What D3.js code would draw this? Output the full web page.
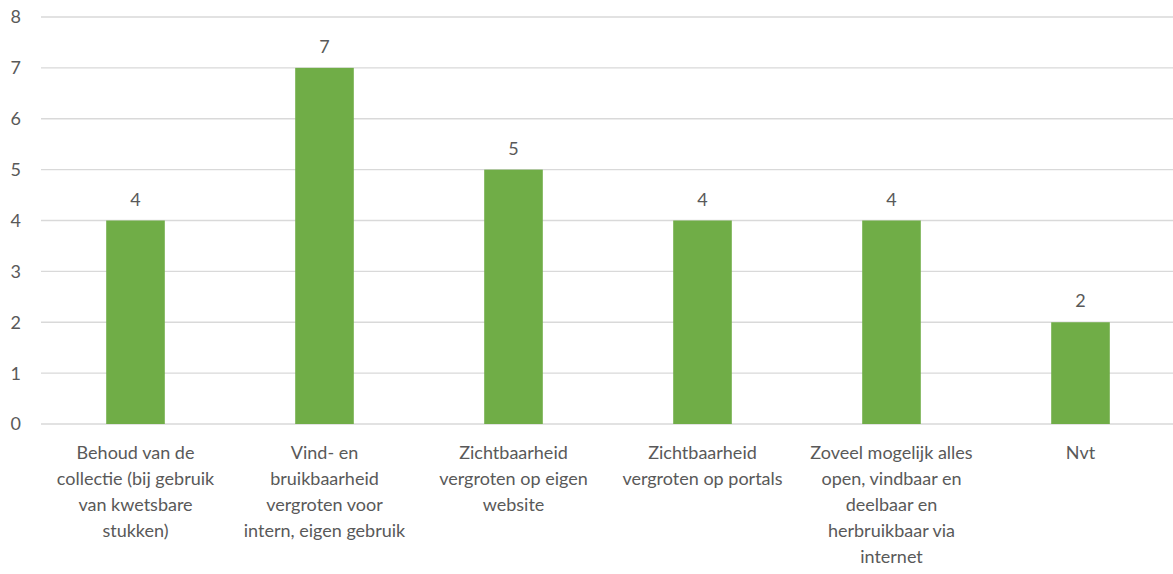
<!DOCTYPE html>
<html>
<head>
<meta charset="utf-8">
<script src="https://cdn.jsdelivr.net/npm/d3@7"></script>
<style>
  body { margin: 0; background: #fff; }
  text { font-family: Lato, "Open Sans", sans-serif; fill: #595959; }
</style>
</head>
<body>
<div id="chart"></div>
<script>
// Gegevens
const categories = [
    ["Behoud van de", "collectie (bij gebruik", "van kwetsbare", "stukken)"],
    ["Vind- en", "bruikbaarheid", "vergroten voor", "intern, eigen gebruik"],
    ["Zichtbaarheid", "vergroten op eigen", "website"],
    ["Zichtbaarheid", "vergroten op portals"],
    ["Zoveel mogelijk alles", "open, vindbaar en", "deelbaar en", "herbruikbaar via", "internet"],
    ["Nvt"]
];
const values = [4, 7, 5, 4, 4, 2];
const yTicks = [0, 1, 2, 3, 4, 5, 6, 7, 8];

const width = 1173;
const height = 574;
const margin = {top: 17, right: -2, bottom: 150, left: 41};

const svg = d3.select("#chart")
    .append("svg")
    .attr("width", width)
    .attr("height", height);

const x = d3.scaleBand()
    .domain(d3.range(categories.length))
    .range([margin.left, width - margin.right])
    .paddingInner(0.69)
    .paddingOuter(0.345);

const y = d3.scaleLinear()
    .domain([0, 8])
    .range([height - margin.bottom, margin.top]);

// Rasterlijnen
svg.append("g")
    .selectAll("line")
    .data(yTicks)
    .join("line")
    .attr("x1", margin.left)
    .attr("x2", width)
    .attr("y1", d => y(d))
    .attr("y2", d => y(d))
    .attr("stroke", "#d9d9d9")
    .attr("stroke-width", 1.3);

// Y-as labels
svg.append("g")
    .selectAll("text")
    .data(yTicks)
    .join("text")
    .attr("x", 21)
    .attr("y", d => y(d))
    .attr("dy", "0.36em")
    .attr("text-anchor", "end")
    .style("font-size", "18px")
    .text(d => d);

// Balken
svg.append("g")
    .selectAll("rect")
    .data(values)
    .join("rect")
    .attr("x", (d, i) => x(i))
    .attr("width", x.bandwidth())
    .attr("y", d => y(d))
    .attr("height", d => y(0) - y(d))
    .attr("fill", "#70ad47");

// Waardelabels
svg.append("g")
    .selectAll("text")
    .data(values)
    .join("text")
    .attr("x", (d, i) => x(i) + x.bandwidth() / 2)
    .attr("y", d => y(d) - 15)
    .attr("text-anchor", "middle")
    .style("font-size", "18px")
    .text(d => d);

// Categorie labels
const labels = svg.append("g")
    .selectAll("text")
    .data(categories)
    .join("text")
    .attr("x", (d, i) => x(i) + x.bandwidth() / 2)
    .attr("y", y(0) + 35)
    .attr("text-anchor", "middle")
    .style("font-size", "18px");

labels.selectAll("tspan")
    .data(d => d)
    .join("tspan")
    .attr("x", function() { return this.parentNode.getAttribute("x"); })
    .attr("dy", (d, i) => i === 0 ? 0 : 26)
    .text(d => d);
</script>
</body>
</html>
